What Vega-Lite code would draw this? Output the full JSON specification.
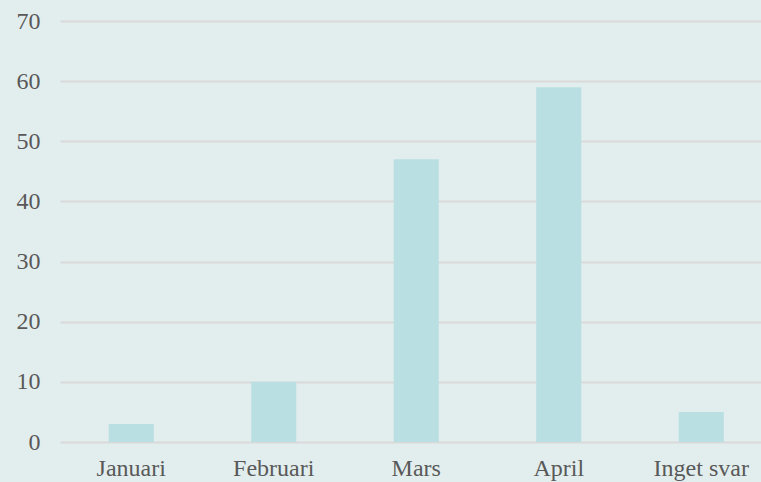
{
  "$schema": "https://vega.github.io/schema/vega-lite/v6.json",
  "autosize": "none",
  "width": 701,
  "height": 421,
  "padding": {"left": 60, "top": 21, "right": 0, "bottom": 40},
  "background": "#e2eeee",
  "config": {"view": {"stroke": null}, "font": "Liberation Serif"},
  "data": {"values": [
    {"month": "Januari", "count": 3},
    {"month": "Februari", "count": 10},
    {"month": "Mars", "count": 47},
    {"month": "April", "count": 59},
    {"month": "Inget svar", "count": 5}
  ]},
  "mark": {"type": "bar", "color": "#b9dfe2"},
  "encoding": {
    "x": {
      "field": "month", "type": "nominal", "sort": null,
      "scale": {"range": [0, 712.5], "paddingInner": 0.684, "paddingOuter": 0.342},
      "axis": {"title": null, "domain": false, "ticks": false, "labelAngle": 0, "labelFont": "Liberation Serif", "labelFontSize": 24, "labelColor": "#595959", "labelPadding": 14}
    },
    "y": {
      "field": "count", "type": "quantitative",
      "scale": {"domain": [0, 70], "nice": false},
      "axis": {"title": null, "domain": false, "ticks": false, "values": [0,10,20,30,40,50,60,70], "grid": true, "gridColor": "#d9d9d9", "gridWidth": 2, "labelFont": "Liberation Serif", "labelFontSize": 24, "labelColor": "#595959", "labelPadding": 20}
    }
  }
}
